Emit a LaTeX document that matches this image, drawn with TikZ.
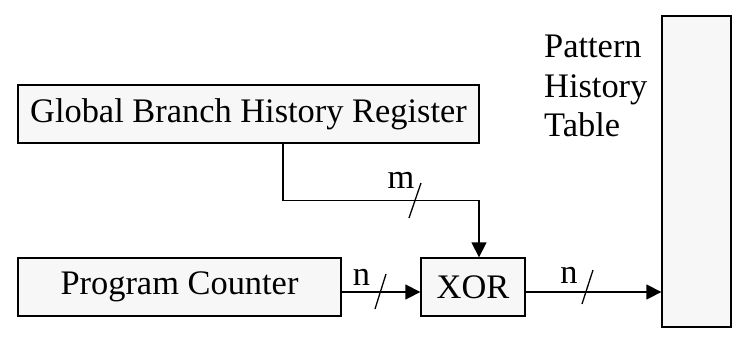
\documentclass[tikz,border=0pt]{standalone}
\usepackage{fontspec}
\setmainfont{Liberation Serif}
\usetikzlibrary{arrows.meta,calc}

\begin{document}
\begin{tikzpicture}[x=1pt,y=-1pt,
  every node/.style={font=\fontsize{34.4}{39.5}\selectfont},
  block/.style={draw, line width=1.3pt, fill=black!3, inner sep=0pt, minimum height=58pt},
  wire/.style={line width=1.3pt},
  arrow/.style={wire, -{Triangle[length=15pt,width=15pt]}},
  buslabel/.style={inner sep=0pt, anchor=base}
]
\useasboundingbox (0,0) rectangle (732,338);

% blocks
\node[block, minimum width=461pt] (gbhr) at (248.5,114) {Global Branch History Register};
\node[block, minimum width=323pt] (pc)   at (179.5,287) {Program Counter};
\node[block, minimum width=104pt] (xor)  at (473,287)   {XOR};
\node[block, minimum width=69pt, minimum height=311pt] (pht) at (696.5,171.5) {};
\node[inner sep=0pt, anchor=north west, align=left] (phtlabel) at (544,35) {Pattern\\History\\Table};

% history register feeds the XOR from above
\coordinate (tap) at ([xshift=34.5pt]gbhr.south);
\coordinate (bend) at ($(tap)+(0,57)$);
\draw[arrow] (tap) -- (bend) -| ([xshift=6pt]xor.north);

% program counter into the XOR
\draw[arrow] ([yshift=-5pt]pc.east) -- ([yshift=-5pt]xor.west);

% XOR output indexes the table
\draw[arrow] ([yshift=-5pt]xor.east) -- ([yshift=-5pt]xor.east -| pht.west);

% bus width marks
\coordinate (sm) at (415,200.5);
\draw[wire] ($(sm)+(6,-17.5)$) -- ($(sm)+(-6,17.5)$);
\node[buslabel] (lm) at (401,188) {m};

\coordinate (sn1) at (380.5,291.5);
\draw[wire] ($(sn1)+(5.5,-17.5)$) -- ($(sn1)+(-5.5,17.5)$);
\node[buslabel] (ln1) at (361.5,285) {n};

\coordinate (sn2) at (587.5,287);
\draw[wire] ($(sn2)+(5.5,-17)$) -- ($(sn2)+(-5.5,17)$);
\node[buslabel] (ln2) at (569,283) {n};
\end{tikzpicture}
\end{document}
